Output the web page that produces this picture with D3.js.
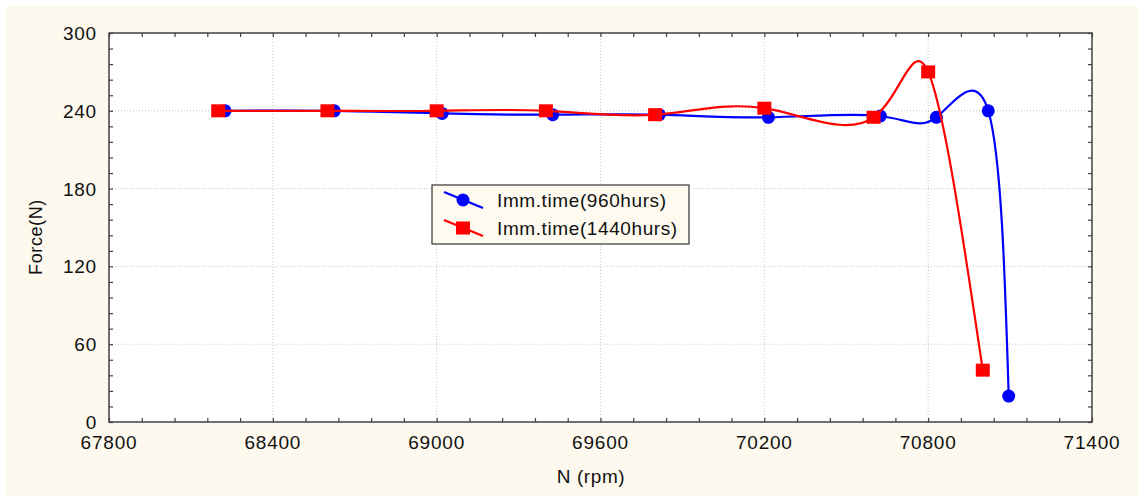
<!DOCTYPE html>
<html lang="en">
<head>
<meta charset="utf-8">
<style type="text/css">
    body { margin: 0; background: #ffffff; }
    text { font-family: "Liberation Sans", Arial, sans-serif; fill: #111111; }
    .grid line { stroke: #c4c4c4; stroke-width: 1px; stroke-dasharray: 1,2; }
    .frame { fill: #ffffff; stroke: #404040; stroke-width: 1.5px; }
</style>
</head>
<body>
<svg width="1139" height="498"></svg>

<script src="https://cdn.jsdelivr.net/npm/d3@7/dist/d3.min.js"></script>
<script type="text/javascript">
// values
var rpm960   = [68225, 68625, 69020, 69425, 69815, 70215, 70625, 70830, 71020, 71095];
var force960 = [240, 240, 238, 237, 237, 235, 236, 235, 240, 20];
var rpm1440   = [68200, 68600, 69000, 69400, 69800, 70200, 70600, 70800, 71000];
var force1440 = [240, 240, 240, 240, 237, 242, 235, 270, 40];

var xTicks = [67800, 68400, 69000, 69600, 70200, 70800, 71400];
var yTicks = [0, 60, 120, 180, 240, 300];
var seriesNames = ["Imm.time(960hurs)", "Imm.time(1440hurs)"];

var svg = d3.select("svg"),
    pLeft = 109, pRight = 1092, pTop = 33, pBottom = 422;

var x = d3.scaleLinear().domain([67800, 71400]).range([pLeft, pRight]);
var y = d3.scaleLinear().domain([0, 300]).range([pBottom, pTop]);

// cream page background
svg.append("rect").attr("x", 5).attr("y", 6).attr("width", 1134).attr("height", 490)
    .attr("fill", "#fef9ee");

svg.append("rect").attr("class", "frame")
    .attr("x", pLeft).attr("y", pTop).attr("width", pRight - pLeft).attr("height", pBottom - pTop)
    .style("stroke", "none");

// dotted grid
var grid = svg.append("g").attr("class", "grid");
grid.selectAll(".gx").data(xTicks.slice(1, -1)).enter().append("line")
    .attr("x1", d => x(d)).attr("x2", d => x(d)).attr("y1", pTop).attr("y2", pBottom);
grid.selectAll(".gy").data(yTicks.slice(1, -1)).enter().append("line")
    .attr("y1", d => y(d)).attr("y2", d => y(d)).attr("x1", pLeft).attr("x2", pRight);

// axes, ticks pointing inside on all four sides
var xMinor = d3.range(67800, 71401, 120);
var yMinor = d3.range(0, 301, 12);
function tickAxis(axis, vals) {
    return axis.tickValues(vals).tickSizeInner(4).tickSizeOuter(0).tickFormat("");
}
svg.append("g").attr("transform", "translate(0," + pBottom + ")")
    .call(tickAxis(d3.axisTop(x), xMinor));
svg.append("g").attr("transform", "translate(0," + pTop + ")")
    .call(tickAxis(d3.axisBottom(x), xMinor));
svg.append("g").attr("transform", "translate(" + pLeft + ",0)")
    .call(tickAxis(d3.axisRight(y), yMinor));
svg.append("g").attr("transform", "translate(" + pRight + ",0)")
    .call(tickAxis(d3.axisLeft(y), yMinor));
svg.selectAll(".domain").remove();
svg.selectAll(".tick line").attr("stroke", "#404040").attr("stroke-width", 1.2);

svg.append("rect").attr("class", "frame")
    .attr("x", pLeft).attr("y", pTop).attr("width", pRight - pLeft).attr("height", pBottom - pTop)
    .style("fill", "none");

// tick labels
svg.selectAll(".xl").data(xTicks).enter().append("text")
    .attr("x", d => x(d)).attr("y", 449)
    .attr("text-anchor", "middle").style("font-size", "19px").style("letter-spacing", "0.8px")
    .text(d => d);
svg.selectAll(".yl").data(yTicks).enter().append("text")
    .attr("x", 97).attr("y", d => y(d) + 7)
    .attr("text-anchor", "end").style("font-size", "19px").style("letter-spacing", "0.8px")
    .text(d => d);

svg.append("text").attr("x", 591).attr("y", 483).attr("text-anchor", "middle")
    .style("font-size", "19px").style("letter-spacing", "0.6px").text("N (rpm)");
svg.append("text").attr("transform", "translate(42,237) rotate(-90)").attr("text-anchor", "middle")
    .style("font-size", "18px").style("letter-spacing", "0.6px").text("Force(N)");

// spline lines
var line = d3.line().x(d => x(d[0])).y(d => y(d[1])).curve(d3.curveNatural);
var s960 = d3.zip(rpm960, force960);
var s1440 = d3.zip(rpm1440, force1440);

svg.append("path").datum(s960).attr("d", line)
    .attr("fill", "none").attr("stroke", "#0000ff").attr("stroke-width", 2.2);
svg.selectAll(".c960").data(s960).enter().append("circle")
    .attr("cx", d => x(d[0])).attr("cy", d => y(d[1])).attr("r", 6.5).attr("fill", "#0000ff");

svg.append("path").datum(s1440).attr("d", line)
    .attr("fill", "none").attr("stroke", "#ff0000").attr("stroke-width", 2.2);
svg.selectAll(".s1440").data(s1440).enter().append("rect")
    .attr("x", d => x(d[0]) - 7).attr("y", d => y(d[1]) - 6.5)
    .attr("width", 14).attr("height", 13).attr("fill", "#ff0000");

// legend
var lg = svg.append("g");
lg.append("rect").attr("x", 432).attr("y", 185).attr("width", 257).attr("height", 59)
    .attr("fill", "#fefaf0").attr("stroke", "#333333").attr("stroke-width", 1.2);
var rows = [{name: seriesNames[0], color: "#0000ff", cy: 200},
            {name: seriesNames[1], color: "#ff0000", cy: 228}];
rows.forEach(function(r, i) {
    lg.append("line").attr("x1", 444).attr("y1", r.cy - 8).attr("x2", 483).attr("y2", r.cy + 8)
        .attr("stroke", r.color).attr("stroke-width", 2.2);
    if (i == 0) {
        lg.append("circle").attr("cx", 463).attr("cy", r.cy).attr("r", 6.5).attr("fill", r.color);
    } else {
        lg.append("rect").attr("x", 456).attr("y", r.cy - 6.5).attr("width", 14).attr("height", 13)
            .attr("fill", r.color);
    }
    lg.append("text").attr("x", 497).attr("y", r.cy + 7)
        .style("font-size", "19px").style("letter-spacing", "0.6px").text(r.name);
});
</script>
</body>
</html>
